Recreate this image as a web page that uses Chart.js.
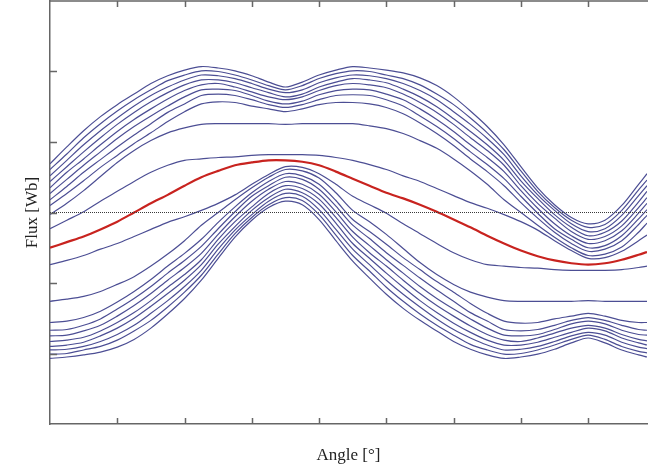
<!DOCTYPE html>
<html>
<head>
<meta charset="utf-8">
<script src="https://cdn.jsdelivr.net/npm/chart.js@4.4.0/dist/chart.umd.min.js"></script>
<style>
  html, body { margin: 0; padding: 0; background: #fff; overflow: hidden; }
  #wrap { width: 648px; height: 471px; }
</style>
</head>
<body>
<div id="wrap"><canvas id="chart"></canvas></div>
<script>
// Rotor angle [deg]
const angles = [0,10,20,30,40,50,60,70,80,90,100,110,120,130,140,150,160,170,180,190,200,210,220,230,240,250,260,270,280,290,300,310,320,330,340,350,355];

// Tick positions (no labels in the original)
const xTicks = [40,80,120,160,200,240,280,320];
const yTicks = [-2,-1,0,1,2];

// Flux at zero current (red)
const fluxZero = [-0.50,-0.42,-0.34,-0.24,-0.13,0,0.13,0.25,0.38,0.50,0.59,0.67,0.71,0.74,0.74,0.72,0.67,0.58,0.48,0.38,0.28,0.20,0.11,0.01,-0.10,-0.21,-0.33,-0.44,-0.54,-0.62,-0.68,-0.72,-0.74,-0.72,-0.67,-0.60,-0.56];

// Positive currents
const plus1  = [-0.23,-0.11,0.01,0.16,0.30,0.44,0.57,0.67,0.74,0.76,0.78,0.79,0.81,0.82,0.82,0.82,0.81,0.78,0.74,0.68,0.61,0.52,0.44,0.34,0.24,0.14,0.06,-0.03,-0.13,-0.25,-0.40,-0.54,-0.65,-0.64,-0.55,-0.40,-0.32];
const plus2  = [-0.03,0.13,0.31,0.51,0.71,0.88,1.02,1.13,1.20,1.25,1.26,1.26,1.26,1.26,1.25,1.26,1.26,1.26,1.26,1.23,1.19,1.12,1.02,0.91,0.76,0.59,0.40,0.18,0,-0.18,-0.35,-0.50,-0.61,-0.59,-0.49,-0.28,-0.15];
const plus3  = [0.10,0.27,0.45,0.64,0.81,0.98,1.13,1.29,1.43,1.54,1.57,1.56,1.51,1.47,1.43,1.47,1.53,1.56,1.56,1.54,1.49,1.40,1.27,1.12,0.95,0.76,0.58,0.38,0.14,-0.08,-0.28,-0.44,-0.55,-0.52,-0.40,-0.17,-0.04];
const plus4  = [0.18,0.37,0.57,0.75,0.93,1.10,1.26,1.42,1.54,1.66,1.68,1.66,1.60,1.53,1.49,1.53,1.60,1.66,1.67,1.66,1.60,1.51,1.37,1.22,1.05,0.86,0.68,0.48,0.23,-0.01,-0.23,-0.38,-0.50,-0.47,-0.33,-0.09,0.04];
const plus5  = [0.27,0.47,0.67,0.86,1.05,1.22,1.37,1.51,1.64,1.74,1.75,1.73,1.66,1.58,1.54,1.58,1.67,1.73,1.75,1.74,1.68,1.60,1.47,1.32,1.15,0.96,0.78,0.58,0.31,0.06,-0.16,-0.33,-0.44,-0.40,-0.26,-0.01,0.13];
const plus6  = [0.35,0.57,0.76,0.96,1.15,1.32,1.47,1.61,1.73,1.81,1.83,1.78,1.71,1.64,1.60,1.64,1.73,1.80,1.83,1.81,1.77,1.68,1.56,1.42,1.25,1.06,0.88,0.67,0.38,0.13,-0.08,-0.27,-0.38,-0.34,-0.19,0.07,0.21];
const plus7  = [0.44,0.65,0.86,1.06,1.25,1.42,1.57,1.70,1.81,1.88,1.88,1.84,1.77,1.70,1.64,1.68,1.78,1.85,1.90,1.88,1.84,1.75,1.64,1.50,1.33,1.15,0.96,0.74,0.45,0.20,-0.03,-0.21,-0.33,-0.28,-0.12,0.15,0.30];
const plus8  = [0.52,0.74,0.96,1.16,1.34,1.51,1.66,1.78,1.88,1.95,1.94,1.90,1.83,1.75,1.70,1.74,1.84,1.91,1.95,1.94,1.90,1.83,1.73,1.60,1.43,1.25,1.05,0.82,0.52,0.25,0.03,-0.16,-0.27,-0.23,-0.04,0.24,0.38];
const plus9  = [0.61,0.83,1.06,1.26,1.44,1.60,1.74,1.87,1.95,2.01,2.00,1.95,1.88,1.80,1.74,1.80,1.90,1.97,2.01,2.00,1.95,1.90,1.81,1.68,1.53,1.34,1.13,0.89,0.59,0.30,0.07,-0.11,-0.21,-0.17,0.03,0.32,0.46];
const plus10 = [0.69,0.93,1.16,1.36,1.53,1.68,1.83,1.94,2.02,2.07,2.05,2.01,1.94,1.85,1.78,1.85,1.95,2.02,2.07,2.05,2.02,1.98,1.91,1.80,1.64,1.44,1.22,0.96,0.65,0.35,0.11,-0.07,-0.16,-0.11,0.10,0.40,0.55];

// Negative currents
const minus1  = [-0.74,-0.68,-0.61,-0.52,-0.44,-0.34,-0.24,-0.14,-0.06,0.03,0.13,0.25,0.40,0.54,0.65,0.64,0.55,0.40,0.23,0.11,-0.01,-0.16,-0.30,-0.44,-0.57,-0.67,-0.74,-0.76,-0.78,-0.79,-0.81,-0.82,-0.82,-0.82,-0.81,-0.78,-0.76];
const minus2  = [-1.26,-1.23,-1.19,-1.12,-1.02,-0.91,-0.76,-0.59,-0.40,-0.18,0,0.18,0.35,0.50,0.61,0.59,0.49,0.28,0.03,-0.13,-0.31,-0.51,-0.71,-0.88,-1.02,-1.13,-1.20,-1.25,-1.26,-1.26,-1.26,-1.26,-1.25,-1.26,-1.26,-1.26,-1.26];
const minus3  = [-1.56,-1.54,-1.49,-1.40,-1.27,-1.12,-0.95,-0.76,-0.58,-0.38,-0.14,0.08,0.28,0.44,0.55,0.52,0.40,0.17,-0.10,-0.27,-0.45,-0.64,-0.81,-0.98,-1.13,-1.29,-1.43,-1.54,-1.57,-1.56,-1.51,-1.47,-1.43,-1.47,-1.53,-1.56,-1.56];
const minus4  = [-1.67,-1.66,-1.60,-1.51,-1.37,-1.22,-1.05,-0.86,-0.68,-0.48,-0.23,0.01,0.23,0.38,0.50,0.47,0.33,0.09,-0.18,-0.37,-0.57,-0.75,-0.93,-1.10,-1.26,-1.42,-1.54,-1.66,-1.68,-1.66,-1.60,-1.53,-1.49,-1.53,-1.60,-1.66,-1.67];
const minus5  = [-1.75,-1.74,-1.68,-1.60,-1.47,-1.32,-1.15,-0.96,-0.78,-0.58,-0.31,-0.06,0.16,0.33,0.44,0.40,0.26,0.01,-0.27,-0.47,-0.67,-0.86,-1.05,-1.22,-1.37,-1.51,-1.64,-1.74,-1.75,-1.73,-1.66,-1.58,-1.54,-1.58,-1.67,-1.73,-1.74];
const minus6  = [-1.83,-1.81,-1.77,-1.68,-1.56,-1.42,-1.25,-1.06,-0.88,-0.67,-0.38,-0.13,0.08,0.27,0.38,0.34,0.19,-0.07,-0.35,-0.57,-0.76,-0.96,-1.15,-1.32,-1.47,-1.61,-1.73,-1.81,-1.83,-1.78,-1.71,-1.64,-1.60,-1.64,-1.73,-1.80,-1.82];
const minus7  = [-1.90,-1.88,-1.84,-1.75,-1.64,-1.50,-1.33,-1.15,-0.96,-0.74,-0.45,-0.20,0.03,0.21,0.33,0.28,0.12,-0.15,-0.44,-0.65,-0.86,-1.06,-1.25,-1.42,-1.57,-1.70,-1.81,-1.88,-1.88,-1.84,-1.77,-1.70,-1.64,-1.68,-1.78,-1.85,-1.88];
const minus8  = [-1.95,-1.94,-1.90,-1.83,-1.73,-1.60,-1.43,-1.25,-1.05,-0.82,-0.52,-0.25,-0.03,0.16,0.27,0.23,0.04,-0.24,-0.52,-0.74,-0.96,-1.16,-1.34,-1.51,-1.66,-1.78,-1.88,-1.95,-1.94,-1.90,-1.83,-1.75,-1.70,-1.74,-1.84,-1.91,-1.93];
const minus9  = [-2.01,-2.00,-1.95,-1.90,-1.81,-1.68,-1.53,-1.34,-1.13,-0.89,-0.59,-0.30,-0.07,0.11,0.21,0.17,-0.03,-0.32,-0.61,-0.83,-1.06,-1.26,-1.44,-1.60,-1.74,-1.87,-1.95,-2.01,-2.00,-1.95,-1.88,-1.80,-1.74,-1.80,-1.90,-1.97,-1.99];
const minus10 = [-2.07,-2.05,-2.02,-1.98,-1.91,-1.80,-1.64,-1.44,-1.22,-0.96,-0.65,-0.35,-0.11,0.07,0.16,0.11,-0.10,-0.40,-0.69,-0.93,-1.16,-1.36,-1.53,-1.68,-1.83,-1.94,-2.02,-2.07,-2.05,-2.01,-1.94,-1.85,-1.78,-1.85,-1.95,-2.02,-2.05];

const blueSeries = [plus10, plus9, plus8, plus7, plus6, plus5, plus4, plus3, plus2, plus1,
                    minus1, minus2, minus3, minus4, minus5, minus6, minus7, minus8, minus9, minus10];

const toPoints = (vals) => vals.map((v, i) => ({ x: angles[i], y: v }));

const datasets = [];

// Zero reference (dotted)
datasets.push({
    data: [{ x: angles[0], y: 0 }, { x: angles[angles.length - 1], y: 0 }],
    borderColor: '#3a3a3a',
    borderWidth: 1,
    borderDash: [1, 1],
    pointRadius: 0,
    tension: 0
});

blueSeries.forEach((s) => {
    datasets.push({
        data: toPoints(s),
        borderColor: 'rgb(76, 78, 148)',
        borderWidth: 1.2,
        pointRadius: 0,
        tension: 0.3
    });
});

datasets.push({
    data: toPoints(fluxZero),
    borderColor: '#c8231f',
    borderWidth: 2.2,
    pointRadius: 0,
    tension: 0.3
});

// Inward tick marks and the top frame line
const frameTicks = {
    id: 'frameTicks',
    afterDraw (chart) {
        const { ctx, chartArea } = chart;
        const xs = chart.scales.x;
        const ys = chart.scales.y;
        ctx.save();
        ctx.strokeStyle = '#666';
        ctx.lineWidth = 1.5;
        ctx.beginPath();
        ctx.moveTo(chartArea.left, chartArea.top);
        ctx.lineTo(chartArea.right + 2, chartArea.top);
        xTicks.forEach((t) => {
            const px = Math.round(xs.getPixelForValue(t)) + 0.5;
            ctx.moveTo(px, chartArea.bottom);
            ctx.lineTo(px, chartArea.bottom - 6);
            ctx.moveTo(px, chartArea.top);
            ctx.lineTo(px, chartArea.top + 6);
        });
        yTicks.forEach((t) => {
            const py = Math.round(ys.getPixelForValue(t)) + 0.5;
            ctx.moveTo(chartArea.left, py);
            ctx.lineTo(chartArea.left + 7, py);
        });
        ctx.stroke();
        ctx.restore();
    }
};

const titleFont = { family: 'Liberation Serif', size: 17 };

new Chart(document.getElementById('chart'), {
    type: 'line',
    data: { datasets },
    options: {
        responsive: true,
        maintainAspectRatio: false,
        animation: false,
        layout: { padding: { top: 1, right: 1, left: 0, bottom: 0 } },
        plugins: {
            legend: { display: false },
            tooltip: { enabled: false }
        },
        scales: {
            x: {
                type: 'linear',
                min: 0,
                max: 355,
                ticks: { display: false },
                grid: { display: false, drawTicks: false },
                border: { display: true, color: '#666', width: 1.5 },
                title: {
                    display: true,
                    text: 'Angle [°]',
                    font: titleFont,
                    color: '#222',
                    padding: { top: 21, bottom: 5.6 }
                }
            },
            y: {
                min: -3,
                max: 3,
                ticks: { display: false },
                grid: { display: false, drawTicks: false },
                border: { display: true, color: '#666', width: 1.5 },
                title: {
                    display: true,
                    text: 'Flux [Wb]',
                    font: titleFont,
                    color: '#222',
                    padding: { top: 22.8, bottom: 6.8 }
                }
            }
        }
    },
    plugins: [frameTicks]
});
</script>
</body>
</html>
